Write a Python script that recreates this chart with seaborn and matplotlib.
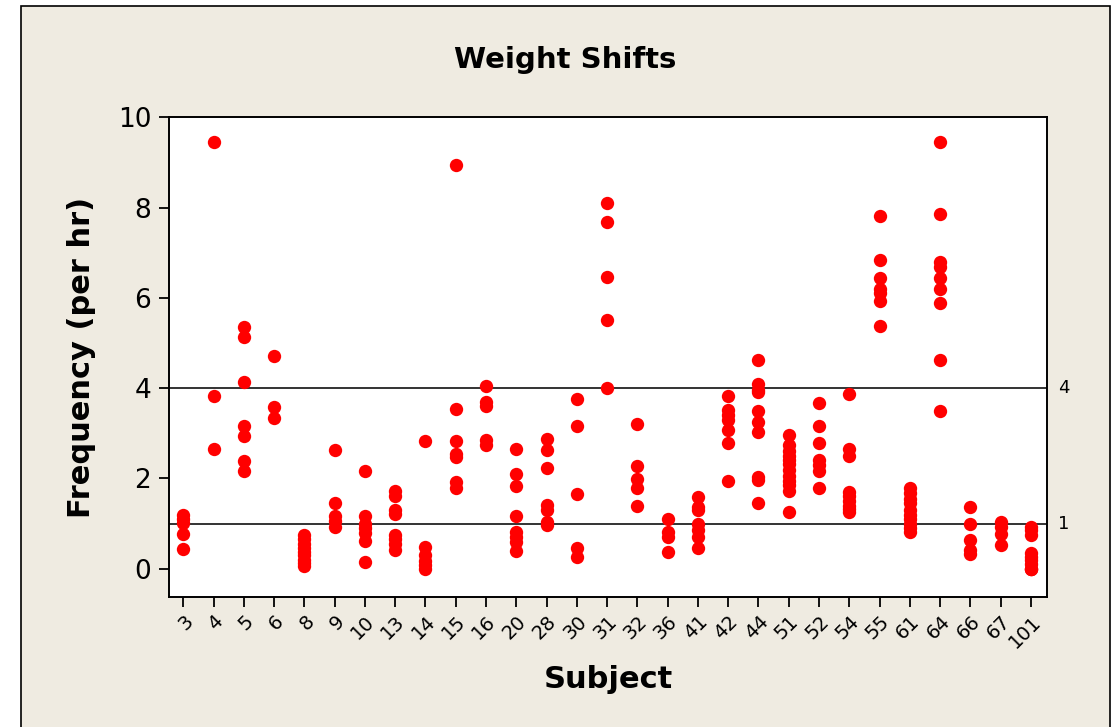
import numpy as np
import pandas as pd
import matplotlib
matplotlib.use("Agg")
import matplotlib.pyplot as plt
from matplotlib.patches import Rectangle
import seaborn as sns

# Subjects on the x axis, in display order
subjects = ["3", "4", "5", "6", "8", "9", "10", "13", "14", "15", "16", "20", "28",
            "30", "31", "32", "36", "41", "42", "44", "51", "52", "54", "55", "61",
            "64", "66", "67", "101"]

# Weight-shift frequency (per hr) recorded for each subject
freq_s3 = [1.2, 1.1, 1.02, 0.77, 0.44]
freq_s4 = [9.45, 3.83, 2.66]
freq_s5 = [5.35, 5.13, 4.13, 3.17, 2.95, 2.38, 2.16]
freq_s6 = [4.71, 3.59, 3.34]
freq_s8 = [0.75, 0.65, 0.55, 0.45, 0.38, 0.3, 0.2, 0.12, 0.05]
freq_s9 = [2.63, 1.45, 1.17, 1.05, 0.93]
freq_s10 = [2.16, 1.17, 1.0, 0.9, 0.8, 0.62, 0.15]
freq_s13 = [1.72, 1.62, 1.3, 1.22, 0.75, 0.65, 0.55, 0.42]
freq_s14 = [2.83, 0.49, 0.3, 0.18, 0.08, 0.0]
freq_s15 = [8.95, 3.54, 2.82, 2.55, 2.48, 1.91, 1.78]
freq_s16 = [4.05, 3.69, 3.61, 2.85, 2.74]
freq_s20 = [2.66, 2.09, 1.83, 1.16, 0.82, 0.71, 0.6, 0.4]
freq_s28 = [2.88, 2.63, 2.24, 1.41, 1.3, 1.04, 0.97]
freq_s30 = [3.75, 3.17, 1.66, 0.45, 0.27]
freq_s31 = [8.1, 7.68, 6.47, 5.52, 4.0]
freq_s32 = [3.21, 2.28, 1.98, 1.78, 1.4]
freq_s36 = [1.11, 0.82, 0.71, 0.36]
freq_s41 = [1.58, 1.37, 1.3, 1.0, 0.86, 0.71, 0.45]
freq_s42 = [3.83, 3.51, 3.4, 3.3, 3.08, 2.79, 1.95]
freq_s44 = [4.63, 4.1, 3.95, 3.91, 3.5, 3.25, 3.03, 2.04, 1.96, 1.45]
freq_s51 = [2.96, 2.73, 2.6, 2.5, 2.4, 2.33, 2.18, 2.05, 1.95, 1.85, 1.72, 1.26]
freq_s52 = [3.67, 3.17, 2.79, 2.4, 2.3, 2.17, 1.79]
freq_s54 = [3.88, 2.66, 2.5, 1.7, 1.6, 1.5, 1.4, 1.32, 1.26]
freq_s55 = [7.81, 6.84, 6.45, 6.2, 6.1, 5.93, 5.38]
freq_s61 = [1.78, 1.68, 1.55, 1.45, 1.3, 1.2, 1.1, 1.0, 0.9, 0.82]
freq_s64 = [9.45, 7.85, 6.79, 6.68, 6.44, 6.19, 5.88, 4.63, 3.5]
freq_s66 = [1.37, 1.0, 0.64, 0.42, 0.33]
freq_s67 = [1.04, 0.92, 0.78, 0.53]
freq_s101 = [0.93, 0.85, 0.74, 0.34, 0.27, 0.2, 0.1, 0.0, 0.0, 0.0]

# Horizontal reference levels
ref_levels = [4, 1]

per_subject = [freq_s3, freq_s4, freq_s5, freq_s6, freq_s8, freq_s9, freq_s10, freq_s13,
               freq_s14, freq_s15, freq_s16, freq_s20, freq_s28, freq_s30, freq_s31,
               freq_s32, freq_s36, freq_s41, freq_s42, freq_s44, freq_s51, freq_s52,
               freq_s54, freq_s55, freq_s61, freq_s64, freq_s66, freq_s67, freq_s101]

df = pd.DataFrame(
    [(s, v) for s, vals in zip(subjects, per_subject) for v in vals],
    columns=["Subject", "Frequency"],
)

sns.set_style("ticks")
plt.rcParams["font.family"] = ["DejaVu Sans"]
plt.rcParams.update({"text.color": "black", "axes.labelcolor": "black",
                     "xtick.color": "black", "ytick.color": "black"})

W, H = 1112, 727
fig = plt.figure(figsize=(W / 100, H / 100), dpi=100, facecolor="white")

# Beige panel with a thin dark frame behind the plot
panel = Rectangle((21 / W, -0.02), (1110 - 21) / W, 1 - 6 / H + 0.02,
                  transform=fig.transFigure, facecolor="#EFEBE1",
                  edgecolor="black", linewidth=1.2, zorder=-5)
fig.patches.append(panel)

ax = fig.add_axes([169.3 / W, 1 - 596.7 / H, (1047.3 - 169.3) / W, (596.7 - 117.3) / H])
ax.set_facecolor("white")

for lvl in ref_levels:
    ax.axhline(lvl, color="#333333", linewidth=1.4, zorder=1)
    ax.text(1.012, lvl, str(lvl), transform=ax.get_yaxis_transform(),
            ha="left", va="center", fontsize=13, color="black")

sns.stripplot(data=df, x="Subject", y="Frequency", order=subjects, jitter=False,
              color="#FF0000", size=9.6, linewidth=0, ax=ax, zorder=3)

ax.set_xlim(-0.46, 28.54)
ax.set_ylim(-0.62, 10.0)
ax.set_yticks([0, 2, 4, 6, 8, 10])
ax.tick_params(axis="y", labelsize=19, length=7, width=1.3, direction="out", pad=6)
ax.tick_params(axis="x", labelsize=14, length=7, width=1.3, direction="out", pad=4)
for lbl in ax.get_xticklabels():
    lbl.set_rotation(45)
    lbl.set_ha("right")
    lbl.set_rotation_mode("anchor")

for side in ["left", "right", "top", "bottom"]:
    ax.spines[side].set_visible(True)
    ax.spines[side].set_color("black")
    ax.spines[side].set_linewidth(1.4)

ax.set_xlabel("Subject", fontsize=22, fontweight="bold", labelpad=10)
ax.set_ylabel("Frequency (per hr)", fontsize=22, fontweight="bold", labelpad=16)
fig.text(565.5 / W, 1 - 60 / H, "Weight Shifts", ha="center", va="center",
         fontsize=21, fontweight="bold")

fig.savefig("out.png", dpi=100, facecolor="white")
